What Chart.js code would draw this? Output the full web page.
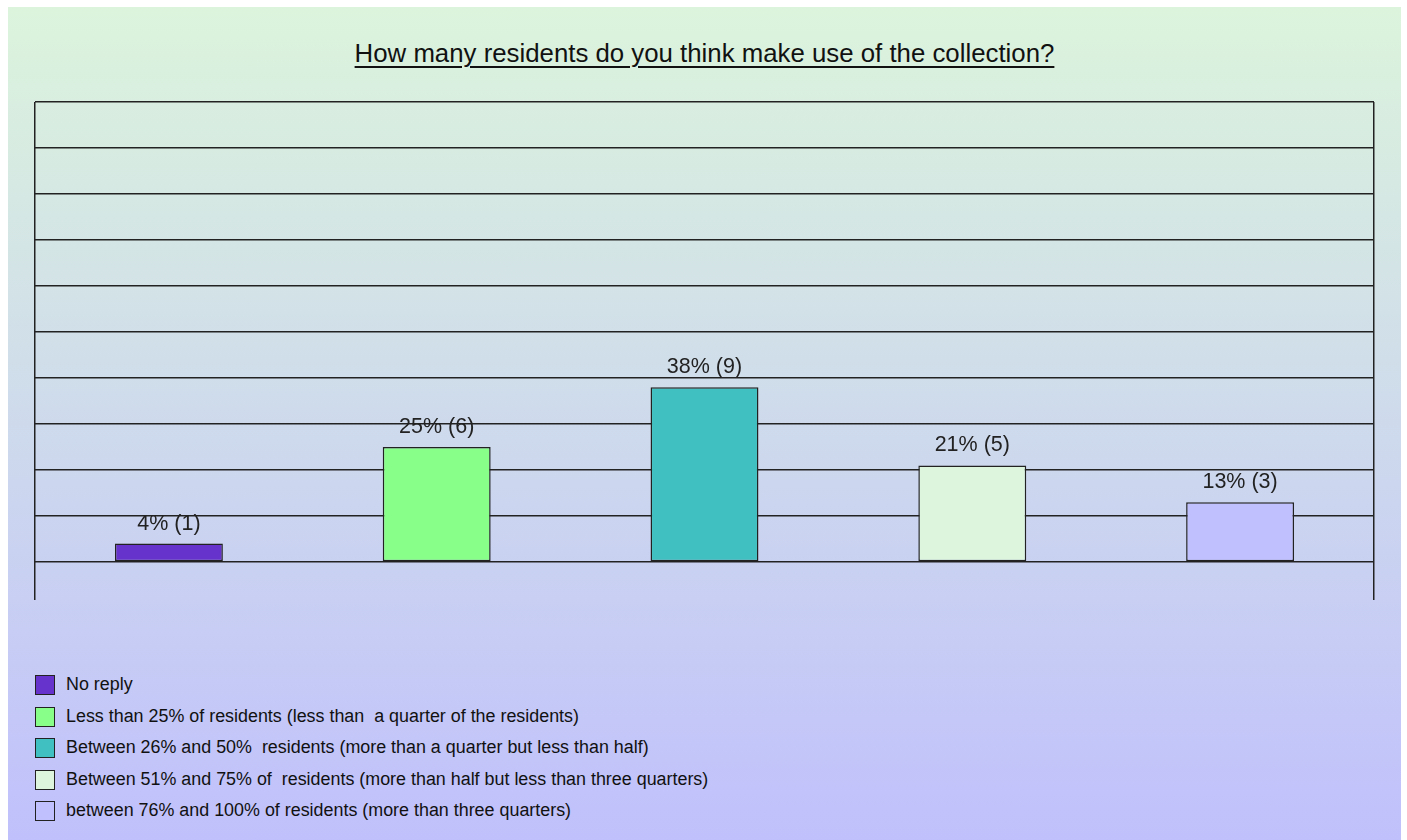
<!DOCTYPE html>
<html>
<head>
<meta charset="utf-8">
<script src="https://cdn.jsdelivr.net/npm/chart.js@4"></script>
<style>
  html, body { margin: 0; padding: 0; background: #ffffff; }
  body { width: 1407px; height: 840px; position: relative; overflow: hidden; }
  #panel {
    position: absolute; left: 8px; top: 7px; width: 1393px; height: 833px;
    background: linear-gradient(to bottom, #dcf4dc 0%, #c0c0fc 100%);
  }
  #title {
    position: absolute; left: 0; top: 32px; width: 1393px; text-align: center;
    font-family: "Liberation Sans", Arial, sans-serif; font-size: 25.8px; color: #111;
    text-decoration: underline; text-underline-offset: 4px; text-decoration-thickness: 1.5px;
    white-space: pre;
  }
  #wrap { position: absolute; left: 0; top: 0; width: 1393px; height: 600px; }
  #legend { position: absolute; left: 27px; top: 667px; }
  .item { position: relative; height: 31.5px; }
  .box {
    position: absolute; left: 0; top: 1px; width: 20px; height: 20px;
    border: 1.5px solid #222; box-sizing: border-box;
  }
  .lbl {
    position: absolute; left: 31px; top: 0px; white-space: pre;
    font-family: "Liberation Sans", Arial, sans-serif;
    font-size: 18px; color: #111; line-height: 21px;
    transform-origin: 0 50%;
  }
</style>
</head>
<body>
<div id="panel">
  <div id="title"></div>
  <div id="wrap"><canvas id="c"></canvas></div>
  <div id="legend"></div>
</div>
<script>
const chartTitle = "How many residents do you think make use of the collection?";
const categories = [
  "No reply",
  "Less than 25% of residents (less than  a quarter of the residents)",
  "Between 26% and 50%  residents (more than a quarter but less than half)",
  "Between 51% and 75% of  residents (more than half but less than three quarters)",
  "between 76% and 100% of residents (more than three quarters)"
];
const percentages = [4, 25, 38, 21, 13];
const counts = [1, 6, 9, 5, 3];
const barColors = ["#6633cc", "#88ff88", "#40c0c0", "#ddf5dd", "#c0c0ff"];

document.getElementById('title').textContent = chartTitle;

const legendEl = document.getElementById('legend');
const lbls = [];
categories.forEach((cat, i) => {
  const item = document.createElement('div');
  item.className = 'item';
  const box = document.createElement('div');
  box.className = 'box';
  box.style.background = barColors[i];
  const lbl = document.createElement('div');
  lbl.className = 'lbl';
  lbl.textContent = cat;
  item.appendChild(box);
  item.appendChild(lbl);
  legendEl.appendChild(item);
  lbls.push(lbl);
});
// condense legend text to match the narrow face of the original
const refW = lbls[1].getBoundingClientRect().width;
const sx = 513 / refW;
lbls.forEach(l => { l.style.transform = 'scaleX(' + sx + ')'; });

const valueLabels = {
  id: 'valueLabels',
  afterDatasetsDraw(chart) {
    const ctx = chart.ctx;
    const meta = chart.getDatasetMeta(0);
    ctx.save();
    ctx.font = '21.5px "Liberation Sans", Arial, sans-serif';
    ctx.fillStyle = '#222';
    ctx.textAlign = 'center';
    ctx.textBaseline = 'middle';
    meta.data.forEach((bar, i) => {
      ctx.fillText(percentages[i] + '% (' + counts[i] + ')', bar.x, bar.y - 20);
    });
    ctx.restore();
  }
};

new Chart(document.getElementById('c'), {
  type: 'bar',
  data: {
    labels: categories,
    datasets: [{
      data: percentages,
      backgroundColor: barColors,
      borderColor: '#222',
      borderWidth: 1.5,
      borderSkipped: false,
      barPercentage: 0.403,
      categoryPercentage: 1.0
    }]
  },
  options: {
    responsive: true,
    maintainAspectRatio: false,
    animation: false,
    layout: { padding: { left: 27, right: 27, top: 95, bottom: 7 } },
    plugins: {
      legend: { display: false },
      title: { display: false },
      tooltip: { enabled: false }
    },
    scales: {
      x: {
        ticks: { display: false },
        border: { display: false },
        grid: {
          offset: true,
          drawTicks: false,
          lineWidth: 1.5,
          color: (c) => (c.type === 'tick' && c.index > 0) ? 'rgba(0,0,0,0)' : '#222'
        }
      },
      y: {
        min: -8.26,
        max: 100,
        ticks: { display: false, stepSize: 10 },
        border: { display: false },
        grid: {
          drawTicks: false,
          lineWidth: 1.4,
          color: (c) => (c.tick && c.tick.value < -0.001) ? 'rgba(0,0,0,0)' : '#222'
        }
      }
    }
  },
  plugins: [valueLabels]
});
</script>
</body>
</html>
